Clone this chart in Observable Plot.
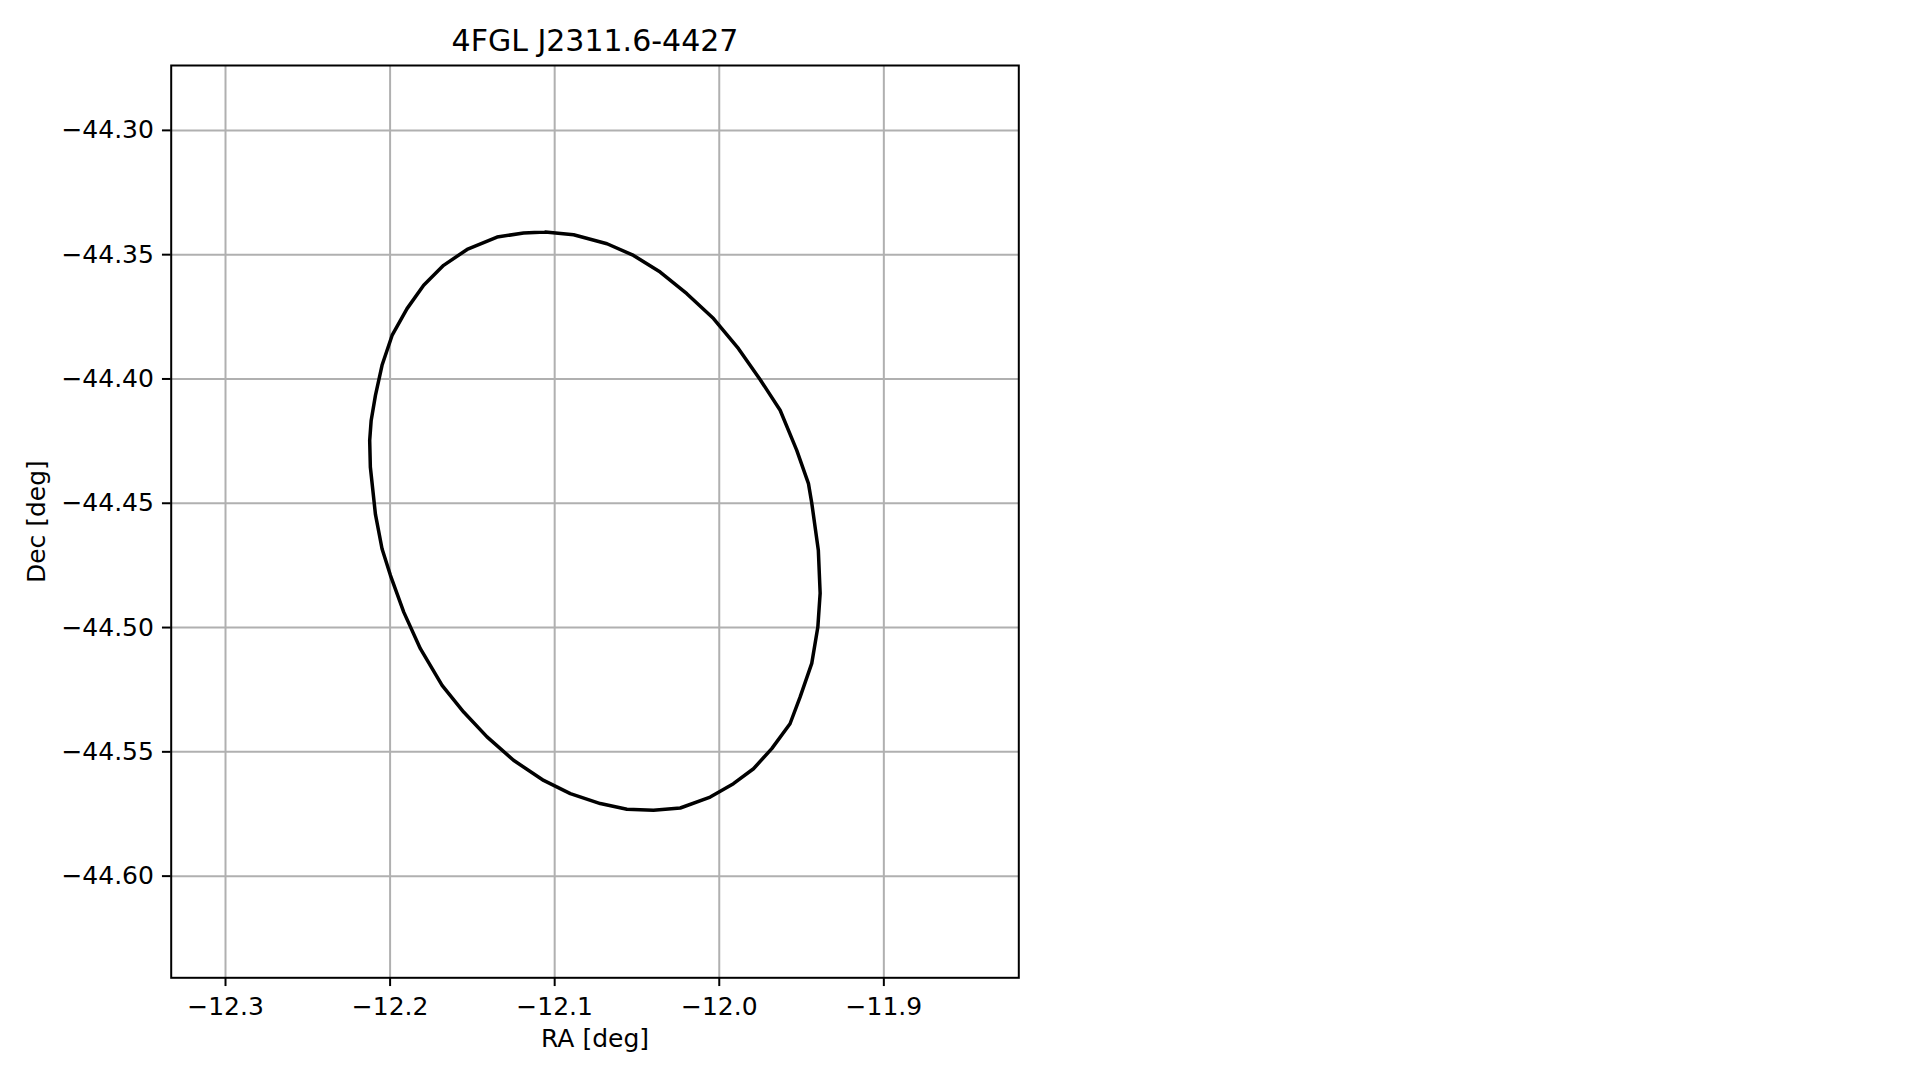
<!DOCTYPE html>
<html>
<head>
<meta charset="utf-8">
<script src="https://cdn.jsdelivr.net/npm/d3@7"></script>
<script src="https://cdn.jsdelivr.net/npm/@observablehq/plot@0.6"></script>
<style>
  html, body { margin: 0; padding: 0; background: #fff; }
  svg { font-family: "DejaVu Sans", sans-serif; }
</style>
</head>
<body>
<div id="chart"></div>
<script>
const title = "4FGL J2311.6-4427";
const xLabel = "RA [deg]";
const yLabel = "Dec [deg]";
const xTicks = [-12.3, -12.2, -12.1, -12.0, -11.9];
const yTicks = [-44.30, -44.35, -44.40, -44.45, -44.50, -44.55, -44.60];

// ellipse contour vertices (RA, Dec)
const ra = [
  -12.1057, -12.0885, -12.0682, -12.0521, -12.0359, -12.0197, -12.0035, -11.9883,
  -11.9752, -11.9630, -11.9529, -11.9458, -11.9438, -11.9398, -11.9387, -11.9401,
  -11.9438, -11.9509, -11.9570, -11.9681, -11.9792, -11.9914,
  -12.0055, -12.0237, -12.0400, -12.0561, -12.0723, -12.0905, -12.1067, -12.1250,
  -12.1411, -12.1553, -12.1684, -12.1816, -12.1917, -12.1998, -12.2049, -12.2089,
  -12.2120, -12.2124, -12.2115, -12.2089, -12.2049, -12.1988, -12.1897, -12.1796,
  -12.1675, -12.1532, -12.1350, -12.1189, -12.1057
];
const dec = [
  -44.3409, -44.3420, -44.3456, -44.3503, -44.3570, -44.3657, -44.3757, -44.3878,
  -44.4002, -44.4126, -44.4287, -44.4421, -44.4499, -44.4689, -44.4862, -44.4998,
  -44.5144, -44.5280, -44.5387, -44.5487, -44.5568, -44.5628,
  -44.5682, -44.5726, -44.5735, -44.5731, -44.5708, -44.5668, -44.5615, -44.5534,
  -44.5440, -44.5340, -44.5233, -44.5085, -44.4938, -44.4790, -44.4683, -44.4545,
  -44.4354, -44.4247, -44.4167, -44.4066, -44.3945, -44.3825, -44.3717, -44.3623,
  -44.3543, -44.3479, -44.3429, -44.3413, -44.3409
];

const pts = ra.map((r, i) => ({ra: r, dec: dec[i]}));
const fs = 25;

const chart = Plot.plot({
  width: 1919,
  height: 1080,
  marginLeft: 170.7,
  marginRight: 900.7,
  marginTop: 65,
  marginBottom: 102.7,
  style: { fontFamily: "DejaVu Sans, sans-serif", background: "#fff", color: "#000" },
  x: { domain: [-12.333, -11.818] },
  y: { domain: [-44.6409, -44.2739] },
  marks: [
    Plot.gridX(xTicks, { stroke: "#b0b0b0", strokeOpacity: 1, strokeWidth: 2 }),
    Plot.gridY(yTicks, { stroke: "#b0b0b0", strokeOpacity: 1, strokeWidth: 2 }),
    Plot.line(pts, { x: "ra", y: "dec", stroke: "#000", strokeWidth: 3.5, curve: "linear" }),
    Plot.frame({ stroke: "#000", strokeWidth: 2 }),
    Plot.axisX(xTicks, { tickSize: 8.75, tickPadding: 11, strokeWidth: 2, fontSize: fs, tickFormat: d3.format(".1f"), label: null }),
    Plot.axisY(yTicks, { tickSize: 8.75, tickPadding: 8.5, strokeWidth: 2, fontSize: fs, tickFormat: d3.format(".2f"), label: null }),
    Plot.text([title], { frameAnchor: "top", dy: -24, lineAnchor: "middle", fontSize: 30, fill: "#000" }),
    Plot.text([xLabel], { frameAnchor: "bottom", dy: 61, lineAnchor: "middle", fontSize: fs, fill: "#000" }),
    Plot.text([yLabel], { frameAnchor: "left", dx: -134, textAnchor: "middle", lineAnchor: "middle", rotate: -90, fontSize: fs, fill: "#000" })
  ]
});
document.getElementById("chart").appendChild(chart);
</script>
</body>
</html>
